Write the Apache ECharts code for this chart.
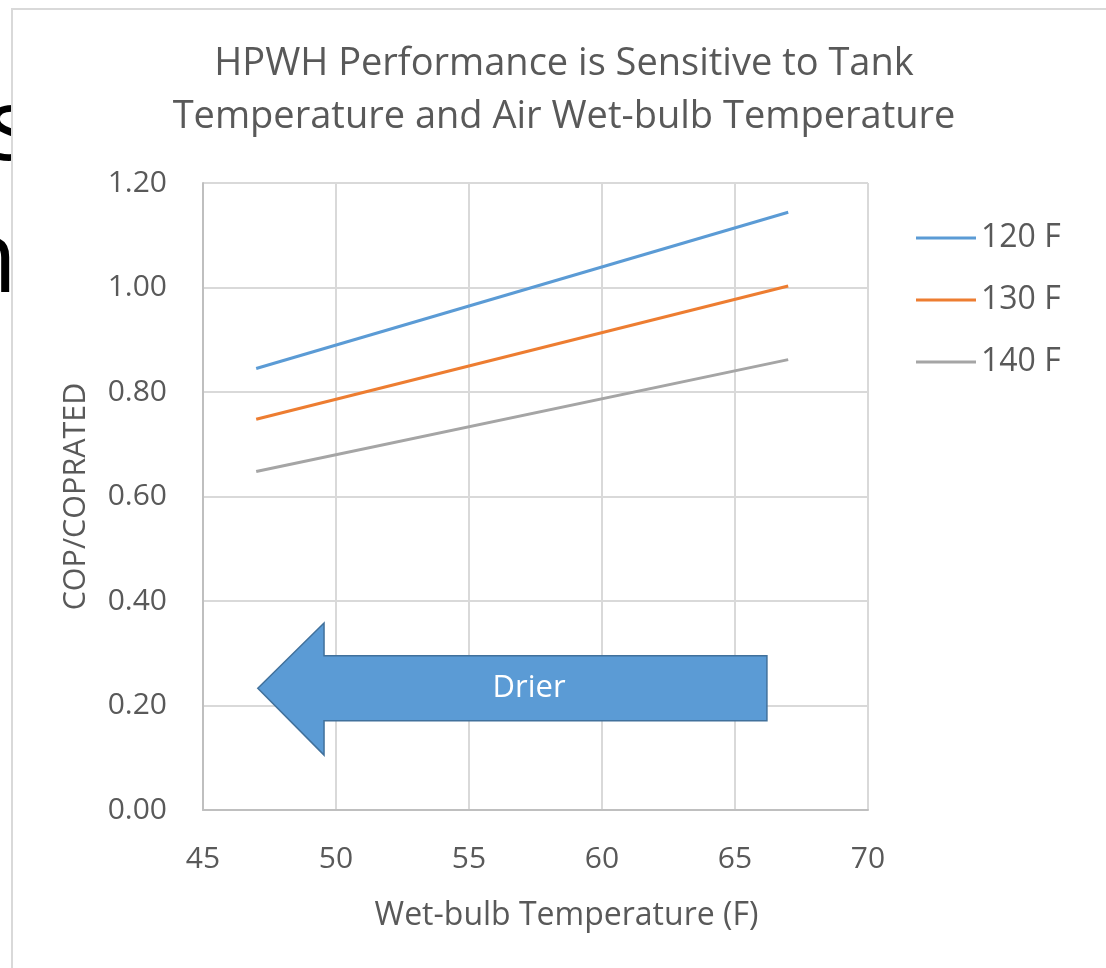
<!DOCTYPE html>
<html>
<head>
<meta charset="utf-8">
<style>
  html, body { margin: 0; padding: 0; background: #ffffff; }
  #chart { width: 1106px; height: 968px; }
</style>
<script src="https://cdn.jsdelivr.net/npm/echarts@6/dist/echarts.min.js"></script>
</head>
<body>
<div id="chart"></div>
<script>
// Wet-bulb temperature (F) at which each curve starts and ends
const wetBulb = [47, 67];
// COP relative to rated COP, per tank set-point
const cop120 = [0.845, 1.144];
const cop130 = [0.748, 1.003];
const cop140 = [0.648, 0.862];
const seriesNames = ['120 F', '130 F', '140 F'];
const xTicks = [45, 50, 55, 60, 65, 70];
const yTicks = [0, 0.2, 0.4, 0.6, 0.8, 1.0, 1.2];

const palette = ['#5b9bd5', '#ed7d31', '#a5a5a5'];
const textGrey = '#595959';
const fontFamily = '"Open Sans", "DejaVu Sans", sans-serif';

function pairs(xs, ys) {
  return xs.map((x, i) => [x, ys[i]]);
}

// "Drier" arrow, described in axis units (x in F, y in COP ratio)
const arrowShape = { tip: 47.06, neck: 49.55, tail: 66.2, mid: 0.233,
                     bodyHalf: 0.062, headTop: 0.358, headBottom: 0.105, labelX: 57.26 };

const chart = echarts.init(document.getElementById('chart'), null, { renderer: 'canvas' });

const lineSeries = [cop120, cop130, cop140].map((vals, i) => ({
  name: seriesNames[i],
  type: 'line',
  data: pairs(wetBulb, vals),
  showSymbol: false,
  symbol: 'none',
  lineStyle: { color: palette[i], width: 3 },
  itemStyle: { color: palette[i] },
  z: 3
}));

const arrowSeries = {
  type: 'custom',
  name: 'arrow',
  data: [[arrowShape.labelX, arrowShape.mid]],
  z: 4,
  silent: true,
  renderItem: function (params, api) {
    const a = arrowShape;
    const pts = [
      [a.tip, a.mid],
      [a.neck, a.headTop],
      [a.neck, a.mid + a.bodyHalf],
      [a.tail, a.mid + a.bodyHalf],
      [a.tail, a.mid - a.bodyHalf],
      [a.neck, a.mid - a.bodyHalf],
      [a.neck, a.headBottom]
    ].map(p => api.coord(p));
    const c = api.coord([api.value(0), api.value(1)]);
    return {
      type: 'group',
      children: [
        { type: 'polygon', shape: { points: pts },
          style: { fill: '#5b9bd5', stroke: '#41719c', lineWidth: 1.5 } },
        { type: 'text', x: c[0], y: c[1],
          style: { text: 'Drier', fill: '#ffffff', font: '31px ' + fontFamily,
                   align: 'center', verticalAlign: 'middle' } }
      ]
    };
  }
};

chart.setOption({
  animation: false,
  backgroundColor: 'transparent',
  textStyle: { fontFamily: fontFamily },
  title: {
    text: 'HPWH Performance is Sensitive to Tank\nTemperature and Air Wet-bulb Temperature',
    left: 559,
    top: 33,
    textAlign: 'center',
    textStyle: { color: textGrey, fontSize: 38, fontWeight: 'normal', lineHeight: 53, fontFamily: fontFamily }
  },
  graphic: [
    // fragments of slide text peeking out behind the chart frame
    { type: 'text', left: -13, top: 82, z: -3, zlevel: 0,
      style: { text: 's', font: '100px ' + fontFamily, fill: '#000000' } },
    { type: 'text', left: -44, top: 214, z: -3, zlevel: 0,
      style: { text: 'h', font: '100px ' + fontFamily, fill: '#000000' } },
    // chart frame
    { type: 'rect', z: -2, zlevel: 0, shape: { x: 12, y: 9, width: 1200, height: 1100 },
      style: { fill: '#ffffff', stroke: '#d9d9d9', lineWidth: 2 } }
  ],
  legend: {
    data: seriesNames,
    orient: 'vertical',
    left: 916,
    top: 222,
    padding: 0,
    itemWidth: 60,
    itemHeight: 3,
    itemGap: 30,
    icon: 'rect',
    textStyle: { color: textGrey, fontSize: 32, fontFamily: fontFamily },
    selectedMode: false
  },
  grid: { left: 203, top: 183, right: 238, bottom: 158, containLabel: false },
  xAxis: {
    type: 'value',
    min: xTicks[0],
    max: xTicks[xTicks.length - 1],
    interval: xTicks[1] - xTicks[0],
    name: 'Wet-bulb Temperature (F)',
    nameLocation: 'middle',
    nameGap: 90,
    nameTextStyle: { color: textGrey, fontSize: 32, fontFamily: fontFamily, padding: [0, 0, 0, 62] },
    axisLine: { show: true, lineStyle: { color: '#bfbfbf', width: 2 } },
    axisTick: { show: false },
    axisLabel: { color: textGrey, fontSize: 30, margin: 34, fontFamily: fontFamily },
    splitLine: { show: true, lineStyle: { color: '#d9d9d9', width: 2 } }
  },
  yAxis: {
    type: 'value',
    min: yTicks[0],
    max: yTicks[yTicks.length - 1],
    interval: 0.2,
    name: 'COP/COPRATED',
    nameLocation: 'middle',
    nameGap: 111,
    nameTextStyle: { color: textGrey, fontSize: 30.5, fontFamily: fontFamily },
    axisLine: { show: true, lineStyle: { color: '#bfbfbf', width: 2 } },
    axisTick: { show: false },
    axisLabel: { color: textGrey, fontSize: 30, margin: 36, fontFamily: fontFamily,
                 formatter: v => v.toFixed(2) },
    splitLine: { show: true, lineStyle: { color: '#d9d9d9', width: 2 } }
  },
  series: lineSeries.concat([arrowSeries])
});
</script>
</body>
</html>
